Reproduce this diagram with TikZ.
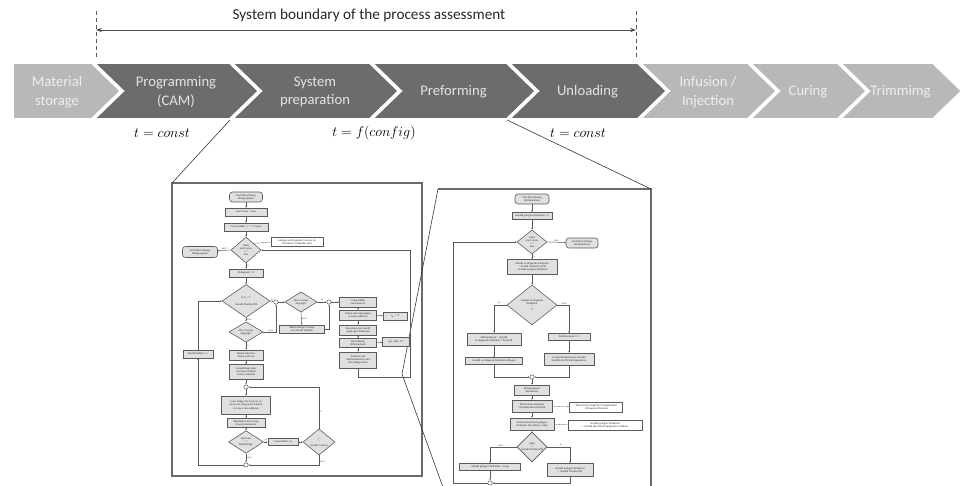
\documentclass[tikz,border=0pt]{standalone}
\usepackage{fontspec}
\setmainfont{Carlito}
\newfontfamily\flowfont{Liberation Serif}
\usetikzlibrary{arrows.meta,shapes.geometric,positioning}

\definecolor{darkstepfill}{HTML}{6C6C6C}
\definecolor{lightstepfill}{HTML}{B8B8B8}
\definecolor{steptext}{HTML}{E4E4E4}
\definecolor{lighttext}{HTML}{EEEEEE}
\definecolor{flowline}{HTML}{5A5A5A}
\definecolor{flowfill}{HTML}{E0E0E0}
\definecolor{panelline}{HTML}{6A6A6A}

\newcommand\flowtxt{\flowfont\fontsize{2.4}{2.7}\selectfont}

\tikzset{
  darkstep/.style={fill=darkstepfill, draw=white, line width=3pt},
  lightstep/.style={fill=lightstepfill, draw=white, line width=3pt},
  steplabel/.style={text=steptext, align=center, font=\fontsize{12.5}{16}\selectfont},
  timelabel/.style={font=\fontsize{12.5}{15}\selectfont},
  sz/.style 2 args={minimum width=#1*0.03cm, minimum height=#2*0.03cm},
  fbox/.style={draw=flowline, fill=flowfill, line width=0.5pt, font=\flowtxt, text=black!85, align=center, inner sep=0.4pt},
  fstart/.style={fbox, rounded corners=2.5pt},
  fdec/.style={fbox, diamond, inner sep=0pt},
  fjoin/.style={circle, draw=flowline, fill=white, line width=0.45pt, minimum size=0.13cm, inner sep=0pt},
  fnote/.style={fbox, fill=white},
  fflow/.style={draw=flowline, line width=0.4pt, -{Stealth[length=1.5pt, width=1.3pt]}},
  fdash/.style={draw=flowline, line width=0.4pt, dash pattern=on 0.8pt off 0.6pt},
  flabel/.style={font=\flowtxt, text=black!70, inner sep=0.3pt},
  panel/.style={draw=panelline, line width=0.9pt},
  callout/.style={draw=black!80, line width=0.5pt},
}

\begin{document}
\begin{tikzpicture}[x=0.03cm, y=-0.03cm]
  \useasboundingbox (0,0) rectangle (963,486);

  % system boundary
  \node [font=\fontsize{13}{15}\selectfont, text=black!85] (bound) at (369,15) {System boundary of the process assessment};
  \coordinate (bltop) at (96,11);  \coordinate (blbot) at (96,62);
  \coordinate (brtop) at (636,11); \coordinate (brbot) at (636,62);
  \coordinate (bl) at (96,30);     \coordinate (br) at (636,30);
  \draw [black!65, dashed, line width=0.5pt] (bltop) -- (blbot) (brtop) -- (brbot);
  \draw [{Stealth[length=5pt,width=3.6pt]}-{Stealth[length=5pt,width=3.6pt]}, black!70, line width=0.6pt] (bl) -- (br);

  % process chain
  \draw [lightstep] (12,62) -- (92,62) -- (122,91) -- (92,120) -- (12,120) -- cycle;
  \node [steplabel, text=lighttext] (mat) at (57,92) {Material\\storage};
  \foreach \l/\r/\s/\c/\n/\t in {92/230/darkstep/steptext/prg/{Programming\\(CAM)},
                                 230/370/darkstep/steptext/prep/{System\\preparation},
                                 370/507/darkstep/steptext/pref/{Preforming},
                                 507/638/darkstep/steptext/unl/{Unloading},
                                 638/748/lightstep/lighttext/inf/{Infusion /\\Injection},
                                 748/838/lightstep/lighttext/cur/{Curing},
                                 838/933/lightstep/lighttext/trim/{Trimmimg}} {
    \draw [\s] (\l,62) -- (\r,62) -- (\r+30,91) -- (\r,120) -- (\l,120) -- (\l+30,91) -- cycle;
    \node [steplabel, text=\c] (\n) at ({(\l+\r)/2+15},92) {\t};
  }

  \node [timelabel] (tprg) at (162,133) {$t = const$};
  \node [timelabel] (tprep) at (374,133) {$t = f(config)$};
  \node [timelabel] (tunl) at (578,133) {$t = const$};

  % panels and callouts
  \coordinate (prepSW) at (230,120);
  \coordinate (unlSW) at (507,120);
  \coordinate (lpTL) at (172,183);
  \coordinate (lpBR) at (422,476);
  \coordinate (rpTL) at (438,189);
  \coordinate (rpTR) at (651,189);
  \coordinate (rpBR) at (651,490);
  \coordinate (rpBL) at (444,490);
  \coordinate (rpTip) at (402,374);
  \draw [panel] (lpTL) rectangle (lpBR);
  \draw [panel] (rpTL) -- (rpTR) -- (rpBR);
  \draw [callout] (prepSW) -- (lpTL);
  \draw [callout] (unlSW) -- (rpTR);
  \draw [callout] (rpBL) -- (rpTip) -- (rpTL);

  % occupancy time
  \node [fstart, sz={33}{10}] (L1) at (246,197) {Start Berechnung\\Belegungszeit};
  \node [fbox, sz={42}{8}] (L2) at (246,212) {textCourse = true};
  \node [fbox, sz={44}{8}] (L3) at (246,227) {Coursezähler: j = 1. Course};
  \node [fdec, sz={30}{26}] (Ld1) at (246,250) {while\\textCourse\\==\\true};
  \node [fnote, sz={52}{9}] (Ln1) at (297,242) {solange noch legende Courses im\\Datensatz vorhanden sind};
  \node [fstart, sz={35}{11}] (Lend) at (200,252) {Ende Berechnung\\Belegungszeit};
  \node [fbox, sz={34}{8}] (L4) at (246,273) {Ablagezeit = 0};
  \node [fdec, sz={48}{33}] (Ld2) at (246,301) {for i = 1\\:\\Anzahl Streifen PH};
  \node [fjoin] (Lj1) at (276,302) {};
  \node [fdec, sz={32}{20}] (Ld3) at (301,302) {Alle Courses\\abgelegt?};
  \node [fjoin] (Lj2) at (329,302) {};
  \node [fbox, sz={45}{8}] (L5) at (302,329) {Zähler übrige Courses\\um Anzahl erhöhen};
  \node [fdec, sz={34}{15}] (Ld4) at (246,332) {Alle Courses\\abgelegt?};
  \node [fbox, sz={34}{10}] (L6) at (246,355) {Materialstreifen\\Daten auslesen};
  \node [fbox, sz={34}{15}] (L7) at (246,372) {Gesamtlänge jeder\\einzelnen Einheit\\(Lane) ermitteln};
  \node [fjoin] (Lj3) at (246,387) {};
  \node [fbox, sz={49}{18}] (L8) at (246,405) {Lane Länge des Courses zu\\den Lane Längen der Einheit\\in Lane-Liste addieren};
  \node [fbox, sz={38}{9}] (L9) at (246,423) {Maximale Lane Länge\\(Lane) bestimmen};
  \node [fdec, sz={35}{21}] (Ld5) at (246,442) {maxLane\\==\\Reihenfolge};
  \node [fbox, sz={30}{7}] (L10) at (283,442) {Coursezähler j++};
  \node [fdec, sz={32}{26}] (Ld6) at (319,442) {j\\<\\Anzahl Courses};
  \node [fjoin] (Lj4) at (246,465) {};
  \node [fbox, sz={30}{8}] (L11) at (198,354) {Streifenzähler i++};
  \node [fbox, sz={37}{10}] (R1) at (358,302) {Coursezähler\\zurücksetzen};
  \node [fbox, sz={37}{10}] (R2) at (358,315) {Zeiten aller abgelegten\\Courses addieren};
  \node [fbox, sz={37}{10}] (R3) at (358,330) {Korrektur um Anzahl\\abgelegter Einheiten};
  \node [fbox, sz={37}{9}] (R4) at (358,343) {Berechnung\\Stillstandszeit};
  \node [fbox, sz={37}{16}] (R5) at (358,360) {Addieren der\\Stillstandszeiten und\\der Ablagezeiten};
  \node [fbox, sz={24}{8}] (S1) at (395,316) {t\textsubscript{ab} = T};
  \node [fbox, sz={27}{9}] (S2) at (396,342) {vgl. Abb. 5-7};
  \coordinate (Lback) at (410,377);

  \draw [fflow] (L1) -- (L2);
  \draw [fflow] (L2) -- (L3);
  \draw [fflow] (L3) -- (Ld1);
  \draw [fdash] (Ld1.north east) -- (Ln1.west);
  \draw [fflow] (Ld1.west) -- node [flabel, above] {nein} (Lend);
  \draw [fflow] (Ld1.south) -- node [flabel, right] {ja} (L4);
  \draw [fflow] (L4) -- (Ld2);
  \draw [fflow] (Ld2.east) -- node [flabel, above] {ja} (Lj1);
  \draw [fflow] (Lj1) -- (Ld3);
  \draw [fflow] (Ld3.east) -- node [flabel, above] {ja} (Lj2);
  \draw [fflow] (Lj2) -- (R1);
  \draw [fflow] (Ld3.south) -- node [flabel, right] {nein} (L5);
  \draw [fflow] (L5.east) -| (Lj2.south);
  \draw [fflow] (Ld2.south) -- node [flabel, right] {nein} (Ld4);
  \draw [fflow] (Ld4.east) -| node [flabel, above, pos=0.3] {nein} (Lj1.south);
  \draw [fflow] (Ld4.south) -- node [flabel, right] {ja} (L6);
  \draw [fflow] (L6) -- (L7);
  \draw [fflow] (L7) -- (Lj3);
  \draw [fflow] (Lj3) -- (L8);
  \draw [fflow] (L8) -- (L9);
  \draw [fflow] (L9) -- (Ld5);
  \draw [fflow] (Ld5.east) -- node [flabel, above] {ja} (L10);
  \draw [fflow] (L10) -- (Ld6);
  \draw [fflow] (Ld6.north) |- node [flabel, right, pos=0.2] {ja} (Lj3.east);
  \draw [fflow] (Ld6.south) |- node [flabel, right, pos=0.3] {nein} (Lj4.east);
  \draw [fflow] (Ld5.south) -- node [flabel, right] {nein} (Lj4);
  \draw [fflow] (Lj4.west) -| (L11.south);
  \draw [fflow] (L11.north) |- (Ld2.west);
  \draw [fflow] (R1) -- (R2);
  \draw [fflow] (R2) -- (R3);
  \draw [fflow] (R3) -- (R4);
  \draw [fflow] (R4) -- (R5);
  \draw [fflow] (R2) -- (S1);
  \draw [fflow] (R4) -- (S2);
  \draw [fflow] (R5.south) |- (Lback) |- (Ld1.east);

  % standstill time
  \node [fstart, sz={34}{10}] (Rs) at (532,199) {Start Berechnung\\Stillstandszeit};
  \node [fbox, sz={40}{7}] (Rb0) at (532,216) {Anzahl gelegter Einheiten = 0};
  \node [fdec, sz={30}{24}] (Rd1) at (532,242) {while\\textCourse\\==\\true};
  \node [fstart, sz={32}{10}] (Rend) at (582,243) {Ende Berechnung\\Stillstandszeit};
  \node [fbox, sz={50}{15}] (Rb1) at (532,267) {Anzahl zu tätigende Einheiten\\= Anzahl Streifen im PH\\– Anzahl gelegter Einheiten};
  \node [fdec, sz={50}{40}] (Rd2) at (532,305) {Anzahl zu tätigende\\Einheiten\\>\\0};
  \node [fbox, sz={54}{12}] (Rb2) at (494,339) {Stillstandszeit = Anzahl\\zu tätigende Einheiten * Zeiteinh.};
  \node [fbox, sz={57}{7}] (Rb3) at (494,361) {Anzahl zu tätigende Einheiten ablegen};
  \node [fbox, sz={42}{7}] (Rb4) at (569,337) {Stillstandszeit = 0};
  \node [fbox, sz={50}{12}] (Rb5) at (569,359) {Gelegte Einheiten pro Anzahl\\Streifen im PH inkrementieren};
  \node [fjoin] (Rj1) at (532,377) {};
  \node [fbox, sz={35}{10}] (Rb6) at (532,390) {Belegungszeit\\bestimmen};
  \node [fbox, sz={40}{12}] (Rb7) at (532,406) {Theoretisch mögliche\\Umlaufanzahl ermitteln};
  \node [fnote, sz={53}{10}] (Rn1) at (596,407) {Theoretisch mögliche Umlaufanzahl\\= Ablagezeit/Zeiteinh.};
  \node [fbox, sz={44}{12}] (Rb8) at (532,424) {Anzahl theoretisch gelegter\\Einheiten berechnen / temp};
  \node [fnote, sz={74}{10}] (Rn2) at (605,425) {Anzahl gelegter Einheiten\\+ Anzahl theoretisch möglicher Umläufe};
  \node [fdec, sz={30}{25}] (Rd3) at (532,447) {temp\\<=\\Anzahl Streifen PH};
  \node [fbox, sz={61}{7}] (Rb9) at (490,467) {Anzahl gelegter Einheiten = temp};
  \node [fbox, sz={46}{13}] (Rb10) at (570,470) {Anzahl gelegter Einheiten\\= Anzahl Streifen PH};
  \node [fjoin] (Rj2) at (490,483) {};
  \coordinate (Rloop) at (453,483);

  \draw [fflow] (Rs) -- (Rb0);
  \draw [fflow] (Rb0) -- (Rd1);
  \draw [fflow] (Rd1.east) -- node [flabel, above] {nein} (Rend);
  \draw [fflow] (Rd1.south) -- node [flabel, right] {ja} (Rb1);
  \draw [fflow] (Rb1) -- (Rd2);
  \draw [fflow] (Rd2.west) -| node [flabel, above, pos=0.3] {ja} (Rb2.north);
  \draw [fflow] (Rd2.east) -| node [flabel, above, pos=0.3] {nein} (Rb4.north);
  \draw [fflow] (Rb2) -- (Rb3);
  \draw [fflow] (Rb4) -- (Rb5);
  \draw [fflow] (Rb3.south) |- (Rj1.west);
  \draw [fflow] (Rb5.south) |- (Rj1.east);
  \draw [fflow] (Rj1) -- (Rb6);
  \draw [fflow] (Rb6) -- (Rb7);
  \draw [fflow] (Rb7) -- (Rb8);
  \draw [fdash] (Rb7) -- (Rn1);
  \draw [fdash] (Rb8) -- (Rn2);
  \draw [fflow] (Rb8) -- (Rd3);
  \draw [fflow] (Rd3.west) -| node [flabel, above, pos=0.3] {nein} (Rb9.north);
  \draw [fflow] (Rd3.east) -| node [flabel, above, pos=0.3] {ja} (Rb10.north);
  \draw [fflow] (Rb9) -- (Rj2);
  \draw [fflow] (Rb10.south) |- (Rj2.east);
  \draw [fflow] (Rj2.west) -- (Rloop) |- (Rd1.west);
\end{tikzpicture}
\end{document}
